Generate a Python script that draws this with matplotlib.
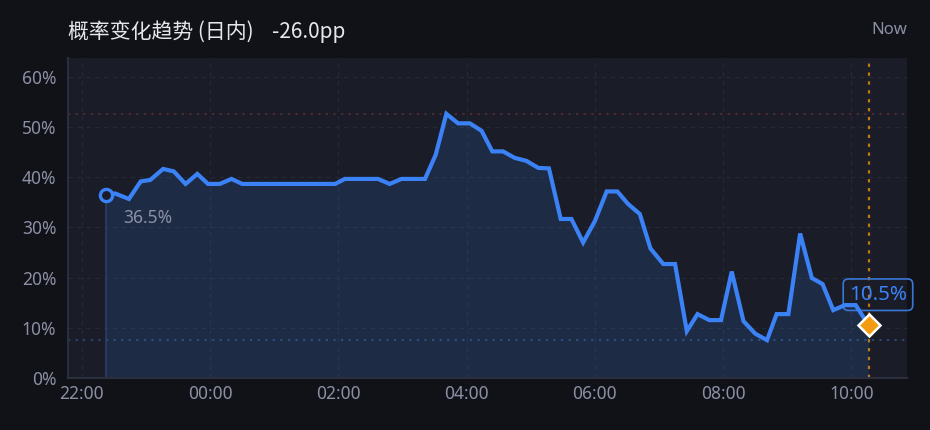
import matplotlib
matplotlib.use("Agg")
import matplotlib.pyplot as plt
import matplotlib.dates as mdates
from datetime import datetime, timedelta

# ---- data ----
times = ["22:23", "22:31", "22:44", "22:55", "23:04", "23:16", "23:26", "23:37", "23:48", "23:58",
         "00:09", "00:20", "00:30", "01:57", "02:06", "02:37", "02:48", "02:59", "03:21", "03:31",
         "03:41", "03:52", "04:03", "04:14", "04:24", "04:34", "04:45", "04:56", "05:07", "05:17",
         "05:28", "05:38", "05:49", "06:00", "06:11", "06:21", "06:31", "06:42", "06:52", "07:04",
         "07:15", "07:26", "07:36", "07:47", "07:58", "08:08", "08:19", "08:30", "08:41", "08:50",
         "09:01", "09:12", "09:23", "09:33", "09:43", "09:54", "10:04", "10:16"]
values = [36.5, 36.8, 35.7, 39.2, 39.5, 41.7, 41.2, 38.7, 40.7, 38.7,
          38.7, 39.7, 38.7, 38.7, 39.7, 39.7, 38.7, 39.7, 39.7, 44.5,
          52.7, 50.8, 50.8, 49.3, 45.2, 45.2, 43.9, 43.3, 41.9, 41.8,
          31.7, 31.7, 27.0, 31.3, 37.2, 37.2, 34.7, 32.7, 25.8, 22.7,
          22.7, 9.3, 12.7, 11.5, 11.5, 21.2, 11.3, 8.8, 7.5, 12.7,
          12.7, 28.8, 19.9, 18.7, 13.5, 14.5, 14.5, 10.5]
x_start, x_end = "21:47", "10:52"
y_ticks = [0, 10, 20, 30, 40, 50, 60]
title = "概率变化趋势 (日内)"
now_label = "Now"

base = datetime(2024, 1, 1)


def to_dt(s):
    h, m = map(int, s.split(":"))
    d = base if h >= 12 else base + timedelta(days=1)
    return d.replace(hour=h, minute=m)


xs = [to_dt(t) for t in times]

# ---- colours ----
FIG_BG = "#111217"
AX_BG = "#1a1c27"
LINE = "#3b82f6"
GRID = "#262936"
TICK = "#8b90a5"
TITLE = "#e6e7ec"
ORANGE = "#f39c12"

plt.rcParams["font.family"] = ["Noto Sans", "DejaVu Sans"]

fig = plt.figure(figsize=(9.3, 4.3), dpi=100, facecolor=FIG_BG)
ax = fig.add_axes([68 / 930, 1 - 377.7 / 430, (907 - 68) / 930, (377.7 - 58) / 430])
ax.set_facecolor(AX_BG)

ax.set_xlim(to_dt(x_start), to_dt(x_end))
ax.set_ylim(0, 63.85)

# grid
ax.set_yticks(y_ticks)
ax.set_yticklabels([f"{v}%" for v in y_ticks])
ax.xaxis.set_major_locator(mdates.HourLocator(byhour=range(0, 24, 2)))
ax.xaxis.set_major_formatter(mdates.DateFormatter("%H:%M"))
ax.grid(True, color=GRID, linestyle=(0, (4, 4)), linewidth=0.8)
ax.set_axisbelow(True)

for s in ["top", "right"]:
    ax.spines[s].set_visible(False)
for s in ["left", "bottom"]:
    ax.spines[s].set_color("#2b2e3c")
    ax.spines[s].set_linewidth(1.5)

ax.tick_params(axis="both", length=0, colors=TICK, labelsize=12.5)
ax.tick_params(axis="y", pad=8.5)
ax.tick_params(axis="x", pad=5.5)

# reference lines
ax.axhline(max(values), color="#5a2a35", linestyle=(0, (1.2, 3)), linewidth=1.3, zorder=1)
ax.axhline(min(values), color="#2c4a80", linestyle=(0, (1.2, 3)), linewidth=1.3, zorder=1)
ax.axvline(xs[-1], color="#c27812", linestyle=(0, (1.5, 2.5)), linewidth=1.6, zorder=1)

# fill + line
ax.fill_between(xs, values, 0, color=LINE, alpha=0.15, linewidth=0, zorder=2)
ax.vlines(xs[0], 0, values[0], color="#2a3f68", linewidth=1.2, zorder=2)
ax.plot(xs, values, color=LINE, linewidth=3, solid_joinstyle="miter", zorder=4)

# start marker
ax.plot([xs[0]], [values[0]], marker="o", markersize=8.8, markerfacecolor=AX_BG,
        markeredgecolor=LINE, markeredgewidth=2.4, zorder=5, clip_on=False)
ax.annotate(f"{values[0]:.1f}%", xy=(xs[0], values[0]), xytext=(12, -16.5),
            textcoords="offset points", ha="left", va="center", color=TICK, fontsize=12.5)

# end marker
ax.plot([xs[-1]], [values[-1]], marker="D", markersize=11, markerfacecolor=ORANGE,
        markeredgecolor="white", markeredgewidth=1.8, zorder=6, clip_on=False)
ax.annotate(f"{values[-1]:.1f}%", xy=(xs[-1], values[-1]), xytext=(6.8, 21.9),
            textcoords="offset points", ha="center", va="center", color=LINE, fontsize=14.8,
            bbox=dict(boxstyle="round,pad=0.28,rounding_size=0.25", facecolor="none",
                      edgecolor="#3a78d8", linewidth=1.2),
            zorder=3, annotation_clip=False)

# title
delta = values[-1] - values[0]
fig.text(68 / 930, 1 - 32 / 430, title, color=TITLE, fontsize=15, va="center", ha="left",
         family=["Noto Sans CJK SC", "Noto Sans"])
fig.text(272 / 930, 1 - 32 / 430, f"{delta:+.1f}pp", color=TITLE, fontsize=15, va="center",
         ha="left", family=["Noto Sans CJK SC", "Noto Sans"])
fig.text(907 / 930, 1 - 30 / 430, now_label, color=TICK, fontsize=12, va="center", ha="right")

fig.savefig("out.png", dpi=100, facecolor=FIG_BG)
